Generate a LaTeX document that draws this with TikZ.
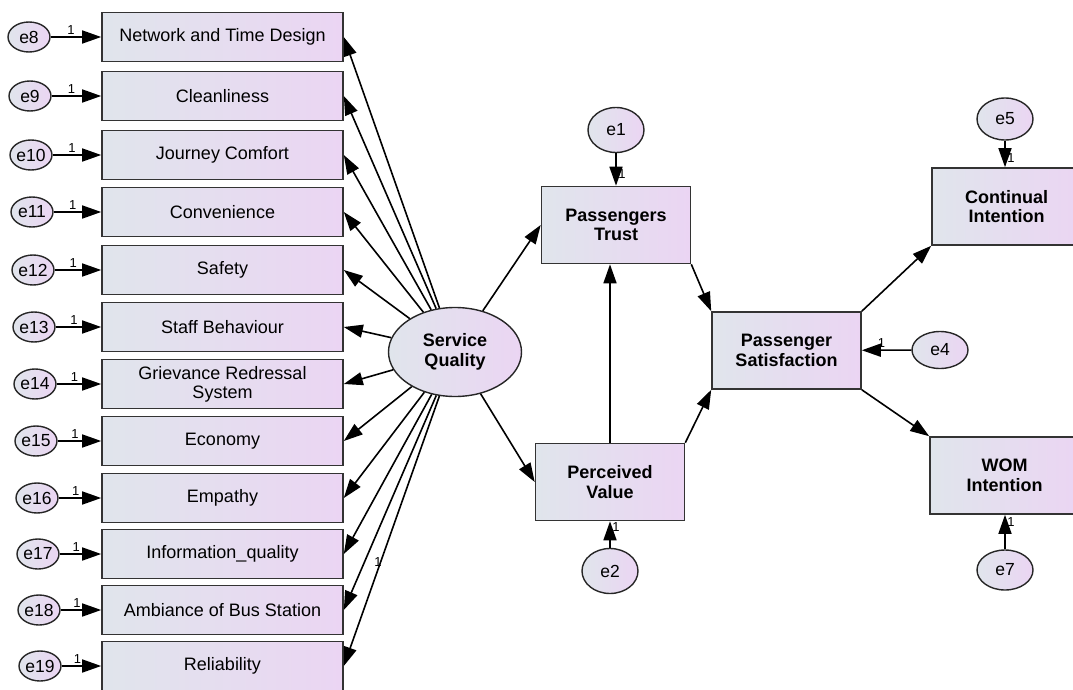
\documentclass[tikz,border=0pt]{standalone}
\usepackage{fontspec}
\setmainfont{Liberation Sans}
\usetikzlibrary{arrows.meta, shapes.geometric}
\definecolor{boxleft}{RGB}{224,229,236}
\definecolor{boxright}{RGB}{235,213,243}

\begin{document}
\begin{tikzpicture} % one unit is one pixel, and y runs downwards
    % so the positions can be read straight off the picture
    [x = 1pt, y = -1pt,
      ind/.style={draw = black!80, line width = 1.6pt, left color = boxleft,
        right color = boxright, minimum width = 241pt, minimum height = 49pt,
        inner sep = 0pt, align = center, font = \fontsize{18}{19}\selectfont},
      lat/.style={ind, minimum width = 149pt, minimum height = 77pt,
        font = \fontsize{18}{19.5}\selectfont\bfseries},
      err/.style={ellipse, draw = black!85, line width = 1.4pt, left color = boxleft,
        right color = boxright, minimum width = 42pt, minimum height = 30pt,
        inner sep = 0pt, font = \fontsize{17.5}{18}\selectfont},
      bigerr/.style={err, minimum width = 56pt, minimum height = 45pt},
      path/.style={draw, line width = 1.6pt, -{Triangle[length = 19pt, width = 13pt]}},
      one/.style={inner sep = 1.5pt, font = \fontsize{13}{14}\selectfont}]
    \useasboundingbox (0,0) rectangle (1073,690);
    \node[err, minimum width = 133pt, minimum height = 89pt,
      font = \fontsize{18}{19.5}\selectfont\bfseries, align = center]
      (sq) at (455,352) {Service\\Quality};
    % the twelve indicators, each with its own error term
    \foreach \i/\lab/\y in {8/Network and Time Design/37, 9/Cleanliness/96,
        10/Journey Comfort/155, 11/Convenience/212, 12/Safety/270,
        13/Staff Behaviour/327, 14/{Grievance Redressal\\System}/384,
        15/Economy/441, 16/Empathy/498, 17/Information\_quality/554,
        18/Ambiance of Bus Station/610, 19/Reliability/666} {
      \node[ind] (m\i) at (222.5,\y) {\lab};
      \node[err] (e\i) at ({29+(\i-8)},\y) {e\i};
      \draw[path] (e\i) -- node[one, above, pos = 0.4] {1} (m\i);
      \draw[path] (sq) -- (m\i.east);
    }
    \node[one] (w17) at (378,562) {1};
    % structural part
    \node[lat] (pt) at (616,225) {Passengers\\Trust};
    \node[lat] (pv) at (610,482) {Perceived\\Value};
    \node[lat] (ps) at (786.5,350.5) {Passenger\\Satisfaction};
    \node[lat] (ci) at (1006.5,206.5) {Continual\\Intention};
    \node[lat] (wom) at (1004.5,475.5) {WOM\\Intention};
    \node[bigerr] (e1) at (616,130) {e1};
    \node[bigerr] (e2) at (610,571) {e2};
    \node[bigerr, minimum height = 37pt] (e4) at (940,350) {e4};
    \node[bigerr, minimum height = 42pt] (e5) at (1005,119) {e5};
    \node[bigerr, minimum height = 40pt] (e7) at (1005,570) {e7};
    \draw[path] (e1) -- node[one, right, pos = 0.65] {1} (pt);
    \draw[path] (e2) -- node[one, right, pos = 0.8] {1} (pv);
    \draw[path] (e4) -- node[one, above, pos = 0.6] {1} (ps);
    \draw[path] (e5) -- node[one, right, pos = 0.65] {1} (e5 |- ci.north);
    \draw[path] (e7) -- node[one, right, pos = 0.8] {1} (e7 |- wom.south);
    \draw[path] (sq) -- (pt.west);
    \draw[path] (sq) -- (pv.west);
    \draw[path] (pv.north) -- (pv.north |- pt.south);
    \draw[path] (pt.south east) -- (ps.north west);
    \draw[path] (pv.north east) -- (ps.south west);
    \draw[path] (ps.north east) -- (ci.south west);
    \draw[path] (ps.south east) -- (wom.north west);
\end{tikzpicture}
\end{document}
